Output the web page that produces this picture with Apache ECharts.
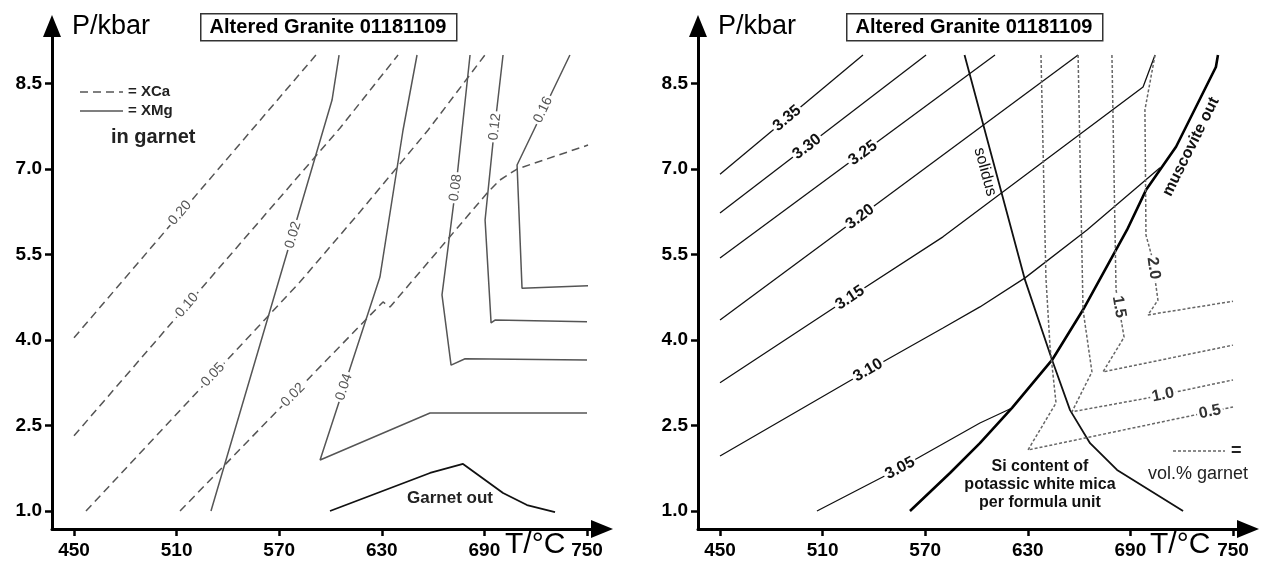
<!DOCTYPE html>
<html>
<head>
<meta charset="utf-8">
<script src="https://cdn.jsdelivr.net/npm/echarts@6/dist/echarts.min.js"></script>
<style>
  html, body { margin: 0; padding: 0; background: #fff; }
  #chart { width: 1263px; height: 566px; }
</style>
</head>
<body>
<div id="chart"></div>
<script>
// ---- axes ----
const tempTicks = [450, 510, 570, 630, 690, 750];
const pressTicks = [1.0, 2.5, 4.0, 5.5, 7.0, 8.5];
const tempRange = [437.13, 758.77];
const pressRange = [0.684, 9.509];

// ---- left panel: garnet composition isopleths (T °C, P kbar) ----
const xca020 = [[450, 4.04], [591.5, 9.0]];
const xca010 = [[450, 2.32], [605.6, 7.72], [639.5, 9.0]];
const xca005 = [[457, 1.0], [582.2, 5.02], [617.3, 6.25], [657, 7.68], [690.3, 9.0]];
const xca002 = [[512, 1.0], [630.7, 4.667], [634.8, 4.579], [692.1, 6.596], [699.1, 6.807], [709.1, 7.0], [750.6, 7.42]];

const xmg002 = [[530.1, 1.0], [600.9, 8.21], [605, 9.0]];
const xmg004 = [[650.6, 9.0], [642.4, 7.68], [628.9, 5.105], [593.9, 1.895], [658.2, 2.72], [750, 2.72]];
const xmg008 = [[681.6, 9.0], [676.9, 7.68], [674, 6.86], [665.2, 4.79], [670.5, 3.56], [678.7, 3.67], [750, 3.65]];
const xmg012 = [[700.9, 9.0], [695, 7.46], [690.4, 6.105], [693.9, 4.30], [696.2, 4.35], [750, 4.32]];
const xmg016 = [[740, 9.0], [709.1, 7.07], [712, 4.91], [750.6, 4.95]];

const garnetOut = [[599.7, 1.0], [658.2, 1.667], [677.5, 1.825], [700.9, 1.316], [714.9, 1.105], [731.3, 0.98]];

// ---- right panel: Si p.f.u. in white mica ----
const si335 = [[450, 6.91], [533.6, 9.0]];
const si330 = [[450, 6.23], [570.5, 9.0]];
const si325 = [[450, 5.44], [610.8, 9.0]];
const si320 = [[450, 4.35], [659.4, 9.0]];
const si315 = [[450, 3.25], [526, 4.75], [580.4, 5.81], [697.4, 8.44], [704.4, 9.0]];
const si310 = [[450, 1.965], [536.6, 3.47], [580.4, 4.21], [602, 4.58], [628.4, 5.09], [664.6, 5.93], [707.3, 7.02]];
const si305 = [[506.7, 1.0], [555.3, 1.754], [602, 2.544], [620.8, 2.807]];

const muscoviteOut = [[561.1, 1.0], [584.5, 1.667], [602, 2.19], [620.8, 2.81], [644.2, 3.65], [662.3, 4.53], [688, 5.93], [699.1, 6.63], [716.7, 7.39], [740, 8.79], [741.2, 9.0]];
const solidus = [[593, 9.0], [628.4, 5.05], [644.2, 3.65], [654.7, 2.77], [666.4, 2.19], [682.2, 1.72], [720.8, 1.0]];

// vol.% garnet
const grt05 = [[637.7, 9.0], [640.6, 5.09], [643, 3.88], [646.5, 2.895], [630.1, 2.07], [750, 2.825]];
const grt10 = [[659.4, 9.0], [662.3, 4.53], [667.5, 3.44], [655.8, 2.74], [699.7, 2.98], [750, 3.30]];
const grt15 = [[679.2, 9.0], [681.6, 4.88], [686.3, 4.05], [674, 3.44], [750, 3.91]];
const grt20 = [[704.4, 9.0], [698.5, 8.04], [699.1, 5.84], [702.6, 5.46], [706.1, 4.70], [700.3, 4.44], [750, 4.68]];

// ---- inline isopleth labels ----
const leftTags = [
  { text: '0.20', at: [512, 6.23], on: xca020 },
  { text: '0.10', at: [516.1, 4.61], on: xca010 },
  { text: '0.05', at: [531.3, 3.39], on: xca005 },
  { text: '0.02', at: [578.1, 3.035], on: xca002 },
  { text: '0.02', at: [578.1, 5.84], on: xmg002 },
  { text: '0.04', at: [607.9, 3.175], on: xmg004 },
  { text: '0.08', at: [673.2, 6.67], on: xmg008 },
  { text: '0.12', at: [696.2, 7.74], on: xmg012 },
  { text: '0.16', at: [724.3, 8.04], on: xmg016 }
];
const siTags = [
  { text: '3.35', at: [489.2, 7.89], on: si335 },
  { text: '3.30', at: [500.9, 7.39], on: si330 },
  { text: '3.25', at: [533.6, 7.28], on: si325 },
  { text: '3.20', at: [531.9, 6.16], on: si320 },
  { text: '3.15', at: [526, 4.74], on: si315 },
  { text: '3.10', at: [536.6, 3.47], on: si310 },
  { text: '3.05', at: [555.3, 1.75], on: si305 }
];
const grtTags = [
  { text: '2.0', at: [703.5, 5.26], on: grt20 },
  { text: '1.5', at: [683.3, 4.58], on: grt15 },
  { text: '1.0', at: [709.1, 3.035], on: grt10 },
  { text: '0.5', at: [736.5, 2.74], on: grt05 }
];
const leftNotes = [
  { text: 'Garnet out', at: [669.9, 1.228] }
];
const rightNotes = [
  { text: 'solidus', at: [605, 6.95], on: solidus, weight: 'normal' },
  { text: 'muscovite out', at: [725.4, 7.39], on: muscoviteOut, weight: 'bold' },
  { text: 'Si content of\npotassic white mica\nper formula unit', at: [637.1, 1.456], weight: 'bold' }
];

const FONT = '"Liberation Sans", Arial, Helvetica, sans-serif';
const measureCtx = document.createElement('canvas').getContext('2d');
function textWidth(text, size, weight) {
  measureCtx.font = weight + ' ' + size + 'px ' + FONT;
  return measureCtx.measureText(text).width;
}

function distToSeg(p, a, b) {
  const dx = b[0] - a[0], dy = b[1] - a[1];
  const len2 = dx * dx + dy * dy || 1;
  let t = ((p[0] - a[0]) * dx + (p[1] - a[1]) * dy) / len2;
  t = Math.max(0, Math.min(1, t));
  const x = a[0] + t * dx - p[0], y = a[1] + t * dy - p[1];
  return Math.sqrt(x * x + y * y);
}

// text placed in data space, turned to follow the nearest segment of its line;
// a white box behind it opens a gap in the line
function tagSeries(grid, tags, st) {
  return {
    type: 'custom',
    xAxisIndex: grid, yAxisIndex: grid,
    z: 20, silent: true, clip: false,
    data: tags.map(t => t.at),
    renderItem(params, api) {
      const tag = tags[params.dataIndex];
      const p = api.coord([api.value(0), api.value(1)]);
      let rot = 0;
      if (tag.on) {
        let best = Infinity;
        for (let i = 0; i < tag.on.length - 1; i++) {
          const a = api.coord(tag.on[i]), b = api.coord(tag.on[i + 1]);
          const d = distToSeg(p, a, b);
          if (d < best) { best = d; rot = Math.atan2(-(b[1] - a[1]), b[0] - a[0]); }
        }
        if (rot > Math.PI / 2) rot -= Math.PI;
        else if (rot <= -Math.PI / 2) rot += Math.PI;
      }
      const weight = tag.weight || st.weight;
      const children = [];
      if (st.bg) {
        const w = textWidth(tag.text, st.size, weight) + 4;
        const h = st.size * 0.85;
        children.push({ type: 'rect', shape: { x: -w / 2, y: -h / 2, width: w, height: h },
          style: { fill: '#fff' } });
      }
      children.push({ type: 'text', style: {
        text: tag.text,
        fill: st.color,
        fontSize: st.size,
        fontWeight: weight,
        fontFamily: FONT,
        align: 'center',
        verticalAlign: 'middle',
        lineHeight: st.lineHeight || st.size + 2
      } });
      return { type: 'group', x: p[0], y: p[1], rotation: rot, children };
    }
  };
}

function curve(data, grid, style) {
  return {
    type: 'line', data, xAxisIndex: grid, yAxisIndex: grid,
    showSymbol: false, symbol: 'none', silent: true, z: 5,
    lineStyle: style
  };
}

const greySolid = { color: '#555', width: 1.5 };
const greyDash = { color: '#555', width: 1.5, type: [8, 5] };
const blackThin = { color: '#111', width: 1.3 };
const dotted = { color: '#666', width: 1.5, type: [3, 2] };

function makeX(grid) {
  return {
    type: 'value', gridIndex: grid, min: tempRange[0], max: tempRange[1],
    splitLine: { show: false },
    axisLine: { show: true, onZero: false, symbol: ['none', 'triangle'], symbolSize: [18, 22],
      lineStyle: { color: '#000', width: 3 } },
    axisTick: { show: true, length: 7, customValues: tempTicks, lineStyle: { color: '#000', width: 2.5 } },
    axisLabel: { customValues: tempTicks, margin: 12, color: '#000', fontSize: 19, fontWeight: 'bold',
      fontFamily: FONT, formatter: v => String(Math.round(v)) }
  };
}
function makeY(grid) {
  return {
    type: 'value', gridIndex: grid, min: pressRange[0], max: pressRange[1],
    splitLine: { show: false },
    axisLine: { show: true, onZero: false, symbol: ['none', 'triangle'], symbolSize: [18, 22],
      lineStyle: { color: '#000', width: 3 } },
    axisTick: { show: true, length: 7, customValues: pressTicks, lineStyle: { color: '#000', width: 2.5 } },
    axisLabel: { customValues: pressTicks, margin: 10, color: '#000', fontSize: 19, fontWeight: 'bold',
      fontFamily: FONT, formatter: v => v.toFixed(1) }
  };
}

function titleBox(x) {
  return [
    { type: 'rect', left: x, top: 13, shape: { width: 256, height: 27 },
      style: { fill: '#fff', stroke: '#333', lineWidth: 1.5 }, z: 30 },
    { type: 'text', x: x + 128, y: 27, z: 31,
      style: { text: 'Altered Granite 01181109', fill: '#000', fontSize: 20, fontWeight: 'bold',
        fontFamily: FONT, align: 'center', verticalAlign: 'middle' } }
  ];
}
function axisNames(pX, tX) {
  return [
    { type: 'text', x: pX, y: 27, z: 31,
      style: { text: 'P/kbar', fill: '#000', fontSize: 27, fontFamily: FONT, verticalAlign: 'middle' } },
    { type: 'text', x: tX, y: 545, z: 31,
      style: { text: 'T/°C', fill: '#000', fontSize: 30, fontFamily: FONT, verticalAlign: 'middle' } }
  ];
}

const chart = echarts.init(document.getElementById('chart'), null, { renderer: 'canvas' });
chart.setOption({
  animation: false,
  backgroundColor: '#fff',
  grid: [
    { left: 52, top: 26, width: 550, height: 503 },
    { left: 698, top: 26, width: 550, height: 503 }
  ],
  xAxis: [makeX(0), makeX(1)],
  yAxis: [makeY(0), makeY(1)],
  graphic: [
    ...titleBox(200), ...titleBox(846),
    ...axisNames(72, 505), ...axisNames(718, 1150),
    // left legend
    { type: 'line', shape: { x1: 80, y1: 92, x2: 123, y2: 92 }, style: { stroke: '#555', lineWidth: 1.5, lineDash: [8, 5] } },
    { type: 'text', x: 128, y: 92, style: { text: '= XCa', fill: '#222', fontSize: 15, fontWeight: 'bold', fontFamily: FONT, verticalAlign: 'middle' } },
    { type: 'line', shape: { x1: 80, y1: 111, x2: 123, y2: 111 }, style: { stroke: '#555', lineWidth: 1.5 } },
    { type: 'text', x: 128, y: 111, style: { text: '= XMg', fill: '#222', fontSize: 15, fontWeight: 'bold', fontFamily: FONT, verticalAlign: 'middle' } },
    { type: 'text', x: 111, y: 137, style: { text: 'in garnet', fill: '#222', fontSize: 20, fontWeight: 'bold', fontFamily: FONT, verticalAlign: 'middle' } },
    // right legend
    { type: 'line', shape: { x1: 1173, y1: 451, x2: 1225, y2: 451 }, style: { stroke: '#666', lineWidth: 1.5, lineDash: [3, 2] } },
    { type: 'text', x: 1231, y: 451, style: { text: '=', fill: '#222', fontSize: 18, fontWeight: 'bold', fontFamily: FONT, verticalAlign: 'middle' } },
    { type: 'text', x: 1198, y: 474, style: { text: 'vol.% garnet', fill: '#222', fontSize: 18, fontFamily: FONT, align: 'center', verticalAlign: 'middle' } }
  ],
  series: [
    curve(xca020, 0, greyDash), curve(xca010, 0, greyDash),
    curve(xca005, 0, greyDash), curve(xca002, 0, greyDash),
    curve(xmg002, 0, greySolid), curve(xmg004, 0, greySolid), curve(xmg008, 0, greySolid),
    curve(xmg012, 0, greySolid), curve(xmg016, 0, greySolid),
    curve(garnetOut, 0, { color: '#111', width: 1.8 }),
    curve(si335, 1, blackThin), curve(si330, 1, blackThin), curve(si325, 1, blackThin),
    curve(si320, 1, blackThin), curve(si315, 1, blackThin), curve(si310, 1, blackThin),
    curve(si305, 1, blackThin),
    curve(muscoviteOut, 1, { color: '#000', width: 2.6 }),
    curve(solidus, 1, { color: '#111', width: 1.8 }),
    curve(grt05, 1, dotted), curve(grt10, 1, dotted), curve(grt15, 1, dotted), curve(grt20, 1, dotted),
    tagSeries(0, leftTags, { color: '#555', size: 14, weight: 'normal', bg: true }),
    tagSeries(0, leftNotes, { color: '#222', size: 17, weight: 'bold' }),
    tagSeries(1, siTags, { color: '#111', size: 16, weight: 'bold', bg: true }),
    tagSeries(1, grtTags, { color: '#333', size: 16, weight: 'bold', bg: true }),
    tagSeries(1, rightNotes, { color: '#111', size: 16, weight: 'normal', lineHeight: 18 })
  ]
});
</script>
</body>
</html>
